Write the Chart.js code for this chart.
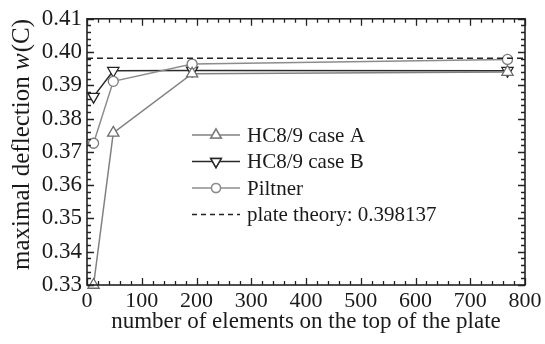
<!DOCTYPE html>
<html lang="en">
<head>
    <meta charset="UTF-8">
    <title>Maximal deflection convergence</title>
    <script src="https://cdn.jsdelivr.net/npm/chart.js"></script>
    <style>
        html, body { margin: 0; padding: 0; background: #ffffff; }
        #wrap { width: 545px; height: 344px; }
    </style>
</head>
<body>
    <div id="wrap"><canvas id="chart"></canvas></div>
    <script>
        // number of elements on the top of the plate
        const elements = [12, 48, 192, 768];
        const caseA = [0.3300, 0.3757, 0.3935, 0.3940];
        const caseB = [0.3866, 0.3944, 0.3945, 0.3944];
        const piltner = [0.3726, 0.3912, 0.3964, 0.3978];
        const plateTheory = 0.398137;
        const theoryX = [0, 800];

        const SERIF = '"Liberation Serif", "DejaVu Serif", serif';
        const INK = '#1a1a1a';

        const legendItems = [
            { text: 'HC8/9 case A', color: '#808080', style: 'triangle', rot: 0 },
            { text: 'HC8/9 case B', color: '#2a2a2a', style: 'triangle', rot: 180 },
            { text: 'Piltner', color: '#8c8c8c', style: 'circle', rot: 0 },
            { text: 'plate theory: 0.398137', color: '#222222', dash: [5, 4] }
        ];

        const decor = {
            id: 'decor',
            afterDraw(chart) {
                const { ctx, chartArea: a, scales } = chart;
                const xs = scales.x, ys = scales.y;
                ctx.save();
                ctx.strokeStyle = '#222';
                ctx.lineWidth = 1.3;
                // inward ticks on all four sides
                ctx.beginPath();
                for (let v = 0; v <= 800; v += 20) {
                    const px = Math.round(xs.getPixelForValue(v)) + 0.5;
                    const len = v % 100 === 0 ? 7 : 4;
                    ctx.moveTo(px, a.bottom); ctx.lineTo(px, a.bottom - len);
                    ctx.moveTo(px, a.top); ctx.lineTo(px, a.top + len);
                }
                for (let i = 0; i <= 40; i++) {
                    const v = 0.33 + i * 0.002;
                    const py = Math.round(ys.getPixelForValue(v)) + 0.5;
                    const len = i % 5 === 0 ? 7 : 4;
                    ctx.moveTo(a.left, py); ctx.lineTo(a.left + len, py);
                    ctx.moveTo(a.right, py); ctx.lineTo(a.right - len, py);
                }
                ctx.stroke();
                ctx.lineWidth = 1.6;
                ctx.strokeRect(a.left, a.top, a.right - a.left, a.bottom - a.top);

                // legend
                const lx = 192, lw = 48, ty0 = 135, dy = 26.5;
                ctx.font = '21px ' + SERIF;
                ctx.textBaseline = 'middle';
                legendItems.forEach((it, i) => {
                    const y = ty0 + i * dy;
                    ctx.strokeStyle = it.color;
                    ctx.lineWidth = 1.5;
                    ctx.setLineDash(it.dash || []);
                    ctx.beginPath();
                    ctx.moveTo(lx, y); ctx.lineTo(lx + lw, y);
                    ctx.stroke();
                    ctx.setLineDash([]);
                    if (it.style) {
                        ctx.fillStyle = '#fff';
                        Chart.helpers.drawPoint(ctx, {
                            pointStyle: it.style, rotation: it.rot,
                            radius: it.style === 'circle' ? 4.5 : 6, borderWidth: 1.4
                        }, lx + lw / 2, y);
                        ctx.fill();
                        ctx.stroke();
                    }
                    ctx.fillStyle = INK;
                    ctx.fillText(it.text, lx + lw + 7, y + 1);
                });

                // y axis title with italic w
                ctx.save();
                ctx.translate(22, 145);
                ctx.rotate(-Math.PI / 2);
                ctx.fillStyle = INK;
                ctx.textBaseline = 'middle';
                const p1 = 'maximal deflection ', p2 = 'w', p3 = '(C)';
                const fs = 25;
                ctx.font = fs + 'px ' + SERIF;
                const w1 = ctx.measureText(p1).width, w3 = ctx.measureText(p3).width;
                ctx.font = 'italic ' + fs + 'px ' + SERIF;
                const w2 = ctx.measureText(p2).width;
                const x0 = -(w1 + w2 + w3) / 2;
                ctx.font = fs + 'px ' + SERIF;
                ctx.fillText(p1, x0, 0);
                ctx.font = 'italic ' + fs + 'px ' + SERIF;
                ctx.fillText(p2, x0 + w1, 0);
                ctx.font = fs + 'px ' + SERIF;
                ctx.fillText(p3, x0 + w1 + w2 + 1, 0);
                ctx.restore();
                ctx.restore();
            }
        };

        const pts = (xs, ys) => xs.map((x, i) => ({ x: x, y: ys[i] }));

        new Chart(document.getElementById('chart'), {
            type: 'line',
            data: {
                datasets: [
                    {
                        label: 'plate theory: 0.398137',
                        data: theoryX.map(x => ({ x: x, y: plateTheory })),
                        borderColor: '#222', borderWidth: 1.3, borderDash: [6, 4],
                        pointRadius: 0
                    },
                    {
                        label: 'HC8/9 case A',
                        data: pts(elements, caseA),
                        borderColor: '#808080', borderWidth: 1.5,
                        pointStyle: 'triangle', pointRadius: 6.5,
                        pointBackgroundColor: '#fff', pointBorderColor: '#6a6a6a', pointBorderWidth: 1.3
                    },
                    {
                        label: 'Piltner',
                        data: pts(elements, piltner),
                        borderColor: '#8c8c8c', borderWidth: 1.5,
                        pointStyle: 'circle', pointRadius: 5,
                        pointBackgroundColor: '#fff', pointBorderColor: '#7a7a7a', pointBorderWidth: 1.3
                    },
                    {
                        label: 'HC8/9 case B',
                        data: pts(elements, caseB),
                        borderColor: '#2a2a2a', borderWidth: 1.5,
                        pointStyle: 'triangle', pointRotation: 180, pointRadius: 6.5,
                        pointBackgroundColor: '#fff', pointBorderColor: '#222', pointBorderWidth: 1.3
                    }
                ]
            },
            options: {
                responsive: true,
                maintainAspectRatio: false,
                animation: false,
                clip: false,
                layout: { padding: { left: 0, right: 20, top: 14, bottom: 0 } },
                plugins: {
                    legend: { display: false },
                    tooltip: { enabled: false }
                },
                scales: {
                    x: {
                        type: 'linear', min: 0, max: 800,
                        grid: { display: false, drawTicks: false },
                        border: { display: false },
                        ticks: { stepSize: 100, padding: 3, color: INK, font: { family: SERIF, size: 22 } },
                        title: {
                            display: true, text: 'number of elements on the top of the plate',
                            color: INK, font: { family: SERIF, size: 23 }, padding: { top: 0, bottom: 8 }
                        },
                        afterFit(s) { s.height = 59; }
                    },
                    y: {
                        type: 'linear', min: 0.33, max: 0.41,
                        grid: { display: false, drawTicks: false },
                        border: { display: false },
                        ticks: {
                            stepSize: 0.01, padding: 5, color: INK,
                            font: { family: SERIF, size: 23 },
                            callback: v => v.toFixed(2)
                        },
                        afterFit(s) { s.width = 87; }
                    }
                }
            },
            plugins: [decor]
        });
    </script>
</body>
</html>
